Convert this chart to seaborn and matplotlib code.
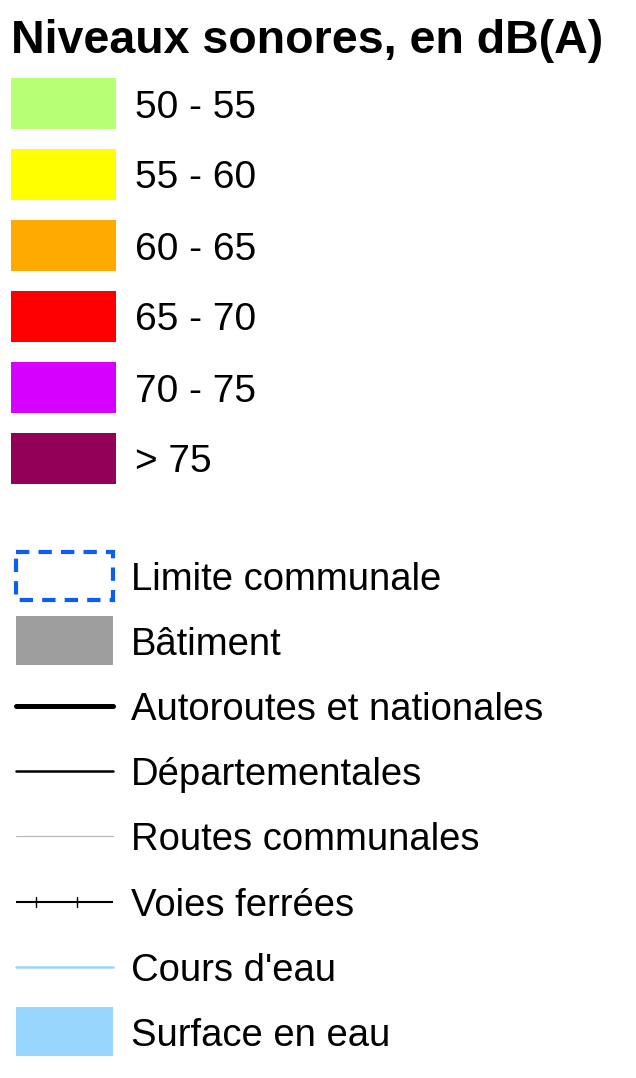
import matplotlib
matplotlib.use("Agg")
import matplotlib.pyplot as plt
from matplotlib.patches import Rectangle
import seaborn as sns

# ── legend content ──
title = "Niveaux sonores, en dB(A)"
noise_labels = ["50 - 55", "55 - 60", "60 - 65", "65 - 70", "70 - 75", "> 75"]
noise_colors = ["#b7ff73", "#ffff00", "#ffaa00", "#ff0000", "#d500ff", "#920058"]

symbol_labels = ["Limite communale", "Bâtiment", "Autoroutes et nationales",
                 "Départementales", "Routes communales", "Voies ferrées",
                 "Cours d'eau", "Surface en eau"]
symbol_kinds = ["dashbox", "box", "line", "line", "line", "rail", "line", "box"]
symbol_colors = ["#0a5ef0", "#9e9e9e", "#000000", "#000000", "#b4b4b4",
                 "#000000", "#99d6ff", "#99d6fe"]
symbol_widths = [3.0, 0, 3.6, 1.8, 0.8, 1.5, 1.8, 0]

sns.set_theme(style="white")
plt.rcParams["font.family"] = ["Liberation Sans", "DejaVu Sans"]
plt.rcParams["text.color"] = "black"

W, H = 636, 1078
fig = plt.figure(figsize=(W / 100, H / 100), dpi=100)
ax = fig.add_axes([0, 0, 1, 1])
ax.set_xlim(0, W)
ax.set_ylim(H, 0)
ax.axis("off")

FS = 27.5

ax.text(11, 53, title, fontsize=33.5, fontweight="bold", color="black",
        ha="left", va="baseline")

# ── noise classes ──
for i, (lab, col) in enumerate(zip(noise_labels, noise_colors)):
    top = 78 + 71 * i
    ax.add_patch(Rectangle((11, top), 105, 51, facecolor=col, edgecolor="none"))
    ax.text(135, top + 25.5 + 14, lab, fontsize=28, color="black",
            ha="left", va="baseline")

# ── map symbols ──
x0, x1 = 16, 113
for i, (lab, kind, col, lw) in enumerate(zip(symbol_labels, symbol_kinds,
                                              symbol_colors, symbol_widths)):
    yc = 575.5 + 65.2 * i
    if kind == "dashbox":
        ax.add_patch(Rectangle((x0, yc - 24), x1 - x0, 48, facecolor="none",
                               edgecolor=col, linewidth=lw, linestyle=(0, (3.2, 2.2))))
    elif kind == "box":
        ax.add_patch(Rectangle((x0, yc - 24.5), x1 - x0, 49, facecolor=col,
                               edgecolor="none"))
    elif kind == "line":
        ax.plot([x0, x1], [yc, yc], color=col, lw=lw, solid_capstyle="round")
    elif kind == "rail":
        ax.plot([x0, x1], [yc, yc], color=col, lw=lw, solid_capstyle="butt")
        for tx in (36, 77):
            ax.plot([tx, tx], [yc - 5, yc + 5], color=col, lw=1.0)
    ax.text(131, yc + 14, lab, fontsize=FS, color="black",
            ha="left", va="baseline")

fig.savefig("out.png", dpi=100, facecolor="white")
